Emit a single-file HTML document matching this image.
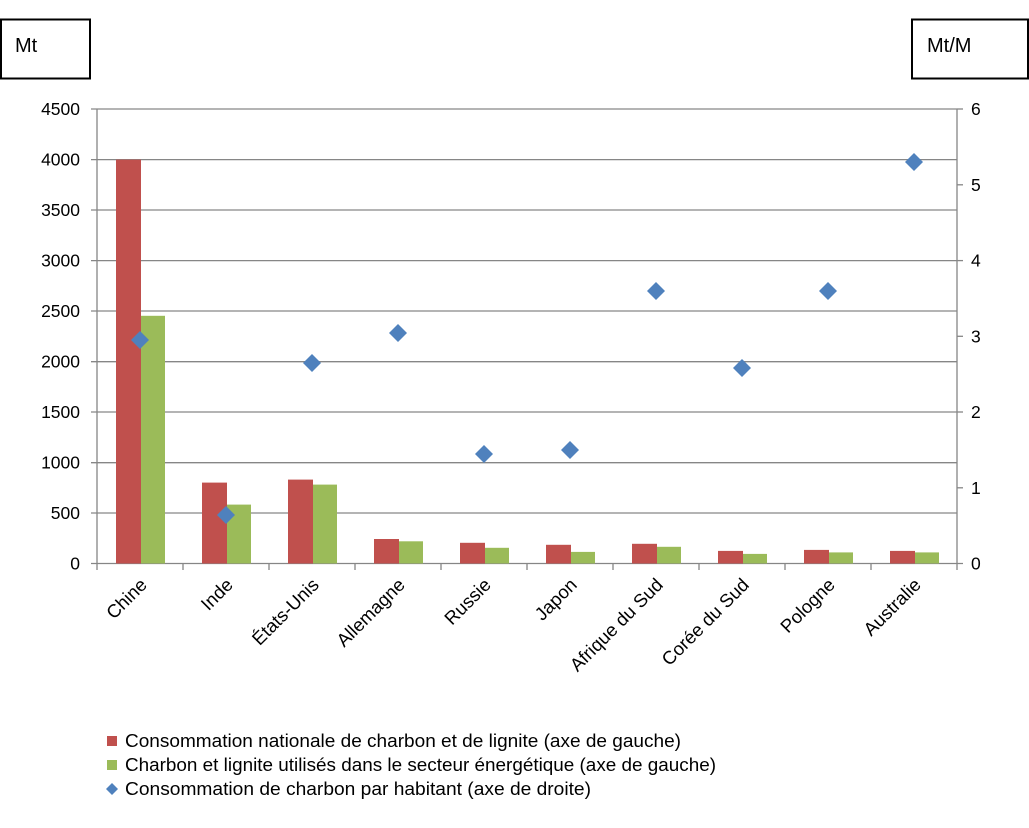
<!DOCTYPE html>
<html><head><meta charset="utf-8"><style>
html,body{margin:0;padding:0;background:#fff;}
svg{display:block;font-family:"Liberation Sans",sans-serif;}
</style></head><body>
<svg width="1029" height="828" viewBox="0 0 1029 828" xmlns="http://www.w3.org/2000/svg">
<rect x="0" y="0" width="1029" height="828" fill="#fff"/>
<rect x="1" y="19.5" width="89" height="59" fill="none" stroke="#000" stroke-width="2"/>
<text x="15" y="52" font-size="20" fill="#000">Mt</text>
<rect x="912" y="19.5" width="116" height="59" fill="none" stroke="#000" stroke-width="2"/>
<text x="927" y="52" font-size="20" fill="#000">Mt/M</text>
<g stroke="#868686" stroke-width="1.3">
<line x1="91" y1="109" x2="957" y2="109"/>
<line x1="91" y1="159.6" x2="957" y2="159.6"/>
<line x1="91" y1="210" x2="957" y2="210"/>
<line x1="91" y1="260.6" x2="957" y2="260.6"/>
<line x1="91" y1="311" x2="957" y2="311"/>
<line x1="91" y1="361.7" x2="957" y2="361.7"/>
<line x1="91" y1="412" x2="957" y2="412"/>
<line x1="91" y1="462.7" x2="957" y2="462.7"/>
<line x1="91" y1="513" x2="957" y2="513"/>
<line x1="91" y1="563.5" x2="963" y2="563.5"/>
<line x1="97" y1="109" x2="97" y2="570"/>
<line x1="957" y1="109" x2="957" y2="563.5"/>
<line x1="957" y1="109" x2="963" y2="109"/>
<line x1="957" y1="184.8" x2="963" y2="184.8"/>
<line x1="957" y1="260.6" x2="963" y2="260.6"/>
<line x1="957" y1="336.3" x2="963" y2="336.3"/>
<line x1="957" y1="412" x2="963" y2="412"/>
<line x1="957" y1="487.8" x2="963" y2="487.8"/>
<line x1="183" y1="563.5" x2="183" y2="570"/>
<line x1="269" y1="563.5" x2="269" y2="570"/>
<line x1="355" y1="563.5" x2="355" y2="570"/>
<line x1="441" y1="563.5" x2="441" y2="570"/>
<line x1="527" y1="563.5" x2="527" y2="570"/>
<line x1="613" y1="563.5" x2="613" y2="570"/>
<line x1="699" y1="563.5" x2="699" y2="570"/>
<line x1="785" y1="563.5" x2="785" y2="570"/>
<line x1="871" y1="563.5" x2="871" y2="570"/>
<line x1="957" y1="563.5" x2="957" y2="570"/>
</g>
<g font-size="17.5" fill="#000" text-anchor="end">
<text x="80" y="115">4500</text>
<text x="80" y="165.6">4000</text>
<text x="80" y="216">3500</text>
<text x="80" y="266.6">3000</text>
<text x="80" y="317">2500</text>
<text x="80" y="367.7">2000</text>
<text x="80" y="418">1500</text>
<text x="80" y="468.7">1000</text>
<text x="80" y="519">500</text>
<text x="80" y="569.5">0</text>
</g>
<g font-size="17.5" fill="#000">
<text x="971" y="115">6</text>
<text x="971" y="190.8">5</text>
<text x="971" y="266.6">4</text>
<text x="971" y="342.3">3</text>
<text x="971" y="418">2</text>
<text x="971" y="493.8">1</text>
<text x="971" y="569.5">0</text>
</g>
<g fill="#C0504D">
<rect x="116" y="159.6" width="25" height="403.9"/>
<rect x="202" y="482.6" width="25" height="80.9"/>
<rect x="288" y="479.6" width="25" height="83.9"/>
<rect x="374" y="539" width="25" height="24.5"/>
<rect x="460" y="542.8" width="25" height="20.7"/>
<rect x="546" y="544.8" width="25" height="18.7"/>
<rect x="632" y="543.8" width="25" height="19.7"/>
<rect x="718" y="550.9" width="25" height="12.6"/>
<rect x="804" y="549.9" width="25" height="13.6"/>
<rect x="890" y="550.9" width="25" height="12.6"/>
</g>
<g fill="#9BBB59">
<rect x="141" y="315.8" width="24" height="247.7"/>
<rect x="227" y="504.6" width="24" height="58.9"/>
<rect x="313" y="484.6" width="24" height="78.9"/>
<rect x="399" y="541.3" width="24" height="22.2"/>
<rect x="485" y="547.8" width="24" height="15.7"/>
<rect x="571" y="551.9" width="24" height="11.6"/>
<rect x="657" y="546.8" width="24" height="16.7"/>
<rect x="743" y="553.9" width="24" height="9.6"/>
<rect x="829" y="552.4" width="24" height="11.1"/>
<rect x="915" y="552.4" width="24" height="11.1"/>
</g>
<g fill="#4F81BD">
<path d="M140 331 l9 9 l-9 9 l-9 -9z"/>
<path d="M226 506 l9 9 l-9 9 l-9 -9z"/>
<path d="M312 354 l9 9 l-9 9 l-9 -9z"/>
<path d="M398 324 l9 9 l-9 9 l-9 -9z"/>
<path d="M484 445 l9 9 l-9 9 l-9 -9z"/>
<path d="M570 441 l9 9 l-9 9 l-9 -9z"/>
<path d="M656 282 l9 9 l-9 9 l-9 -9z"/>
<path d="M742 359 l9 9 l-9 9 l-9 -9z"/>
<path d="M828 282 l9 9 l-9 9 l-9 -9z"/>
<path d="M914 153 l9 9 l-9 9 l-9 -9z"/>
</g>
<g font-size="18.5" fill="#000" text-anchor="end">
<text transform="translate(148,586) rotate(-45)">Chine</text>
<text transform="translate(234,586) rotate(-45)">Inde</text>
<text transform="translate(320,586) rotate(-45)">États-Unis</text>
<text transform="translate(406,586) rotate(-45)">Allemagne</text>
<text transform="translate(492,586) rotate(-45)">Russie</text>
<text transform="translate(578,586) rotate(-45)">Japon</text>
<text transform="translate(664,586) rotate(-45)">Afrique du Sud</text>
<text transform="translate(750,586) rotate(-45)">Corée du Sud</text>
<text transform="translate(836,586) rotate(-45)">Pologne</text>
<text transform="translate(922,586) rotate(-45)">Australie</text>
</g>
<rect x="107" y="736" width="10" height="10" fill="#C0504D"/>
<rect x="107" y="760" width="10" height="10" fill="#9BBB59"/>
<path d="M112 783 l6 6 l-6 6 l-6 -6z" fill="#4F81BD"/>
<g font-size="18" fill="#000">
<text x="125" y="747" textLength="556" lengthAdjust="spacingAndGlyphs">Consommation nationale de charbon et de lignite (axe de gauche)</text>
<text x="125" y="771" textLength="591" lengthAdjust="spacingAndGlyphs">Charbon et lignite utilisés dans le secteur énergétique (axe de gauche)</text>
<text x="125" y="795" textLength="466" lengthAdjust="spacingAndGlyphs">Consommation de charbon par habitant (axe de droite)</text>
</g>
</svg>
</body></html>
